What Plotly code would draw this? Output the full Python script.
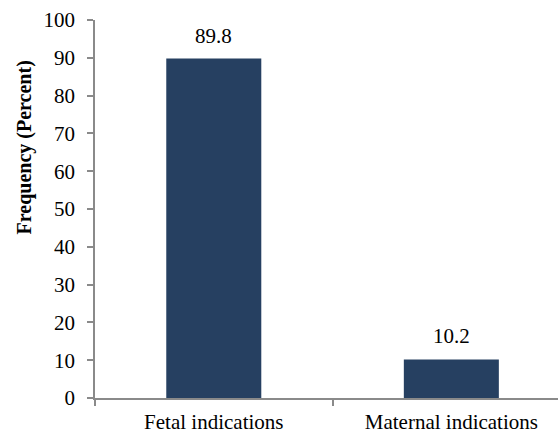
import plotly.graph_objects as go

categories = ["Fetal indications", "Maternal indications"]
values = [89.8, 10.2]
value_labels = ["89.8", "10.2"]
y_ticks = [0, 10, 20, 30, 40, 50, 60, 70, 80, 90, 100]
y_title = "Frequency (Percent)"

bar_color = "#264061"
axis_color = "#8a8a8a"
font_family = "Liberation Serif, Times New Roman, serif"

fig = go.Figure(
    go.Bar(
        x=categories,
        y=values,
        width=0.4,
        marker=dict(color=bar_color, line=dict(width=0)),
        showlegend=False,
    )
)

# value labels above each bar
for cat, val, lab in zip(categories, values, value_labels):
    fig.add_annotation(
        x=cat, y=val, text=lab, showarrow=False,
        yanchor="bottom", yshift=9,
        font=dict(family=font_family, size=21, color="black"),
    )

# rotated y-axis title
fig.add_annotation(
    xref="paper", yref="paper", x=0, y=0.663,
    xanchor="center", yanchor="middle", xshift=-71,
    text="<b>" + y_title + "</b>", textangle=-90, showarrow=False,
    font=dict(family=font_family, size=20, color="black"),
)

fig.update_layout(
    width=558,
    height=433,
    margin=dict(l=95, r=0, t=20, b=35),
    paper_bgcolor="white",
    plot_bgcolor="white",
    font=dict(family=font_family, size=21, color="black"),
)

fig.update_xaxes(
    type="category",
    range=[-0.5, 1.449],
    automargin=False,
    showline=True, linecolor=axis_color, linewidth=1.5,
    ticks="outside", tickson="boundaries", ticklen=6,
    tickcolor=axis_color, tickwidth=1.5,
    ticklabelstandoff=4,
    showgrid=False, zeroline=False,
    tickfont=dict(family=font_family, size=21, color="black"),
)

fig.update_yaxes(
    range=[0, 100],
    tickvals=y_ticks,
    automargin=False,
    showline=True, linecolor=axis_color, linewidth=1.5,
    ticks="outside", ticklen=6, tickcolor=axis_color, tickwidth=1.5,
    ticklabelstandoff=8,
    showgrid=False, zeroline=False,
    tickfont=dict(family=font_family, size=21, color="black"),
)

fig.write_html("out.html")
